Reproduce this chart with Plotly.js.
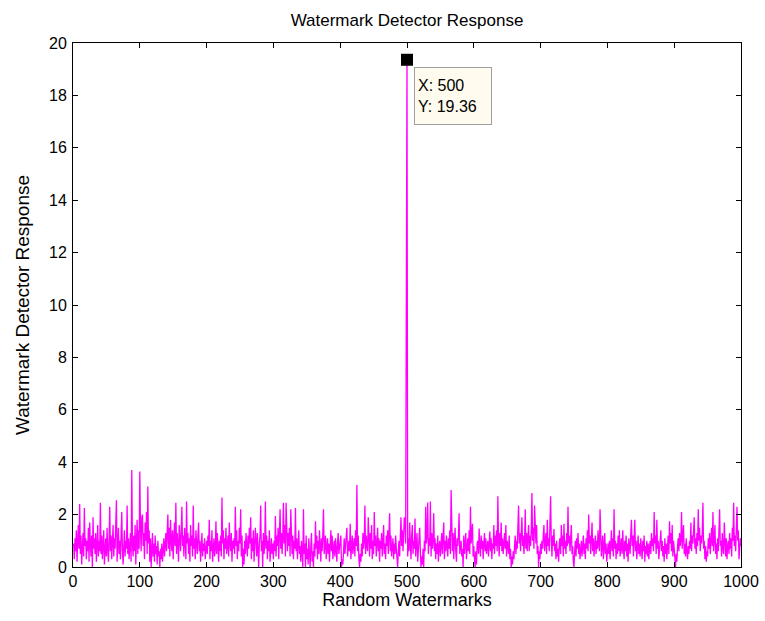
<!DOCTYPE html>
<html>
<head>
<meta charset="utf-8">
<script src="https://cdn.plot.ly/plotly-3.0.1.min.js"></script>
<style>html,body{margin:0;padding:0;background:#fff;}#chart{width:765px;height:621px;}</style>
</head>
<body>
<div id="chart"></div>
<script>
// Detector response for random watermarks 1..1000
const response = [
0.9,0.3,1.1,0.6,1.4,0.2,1.0,1.6,0.7,2.4,0.5,1.2,0.1,0.9,1.3,0.4,2.25,0.8,1.1,0.3,
1.0,0.6,1.5,0.2,1.7,0.9,0.4,1.2,0.0,1.9,0.7,1.1,0.5,1.3,0.2,0.8,1.6,0.4,1.0,0.6,
2.45,0.5,1.2,0.3,0.9,1.4,0.1,0.8,1.1,0.4,1.5,0.7,0.2,1.0,2.3,0.6,1.2,0.3,0.9,1.6,
0.4,1.1,0.7,1.3,2.55,0.2,0.9,1.5,0.5,1.0,0.3,1.2,2.1,0.6,0.1,0.8,1.4,0.4,1.0,0.7,
2.35,0.5,1.1,0.3,0.8,1.3,0.2,3.7,0.9,0.4,1.2,0.6,1.6,0.1,1.0,1.8,0.5,1.4,0.7,3.64,
1.5,0.6,1.9,2.0,0.8,1.3,0.3,1.7,1.0,2.1,0.5,3.07,0.9,1.4,0.2,1.1,0.0,0.7,1.3,0.4,
0.9,0.2,1.2,0.5,0.8,0.1,1.0,0.4,0.6,0.0,0.7,0.3,0.9,0.2,0.5,1.1,0.4,0.8,1.3,0.6,
1.2,2.0,0.7,1.5,0.4,1.8,1.0,0.6,1.4,0.3,1.1,1.7,0.8,2.45,0.5,1.3,0.9,0.2,1.6,1.0,
0.6,1.4,2.3,0.8,1.2,0.4,1.5,1.0,0.3,2.5,0.9,1.3,0.5,1.1,0.2,1.6,0.8,1.2,0.4,2.35,
0.7,1.1,0.3,1.4,0.9,0.5,1.2,1.7,0.6,1.0,0.2,0.8,1.3,0.4,0.9,0.6,1.1,0.3,0.7,1.0,
0.5,1.2,0.8,1.8,0.3,1.0,0.6,1.4,0.2,0.9,1.1,0.4,0.7,1.75,0.5,1.3,0.8,0.2,1.0,0.6,
1.2,0.4,2.65,0.9,1.4,0.3,1.1,0.7,1.5,0.5,0.8,1.2,0.4,1.7,0.9,0.6,1.3,0.2,1.0,0.7,
1.1,0.5,2.3,0.8,1.4,0.3,1.0,0.6,1.5,0.9,2.2,0.4,1.2,0.0,0.7,0.1,1.0,0.5,1.3,0.8,
0.4,1.2,0.7,1.5,0.9,1.9,0.3,1.1,0.6,1.4,0.2,0.8,1.5,1.0,0.4,1.3,0.7,0.0,0.9,1.2,
2.35,0.6,1.0,0.0,1.3,0.5,0.9,2.5,0.7,1.2,0.3,1.0,0.6,1.4,0.2,0.8,1.1,0.5,0.9,0.3,
1.0,0.6,1.95,0.4,1.2,0.8,1.5,0.3,1.0,2.2,0.7,1.3,0.5,1.1,2.45,0.9,1.6,0.4,2.45,1.0,
0.6,1.3,0.8,1.5,0.4,2.2,0.9,0.5,1.2,0.3,1.0,0.7,2.25,0.6,1.1,0.3,0.9,1.4,0.5,0.8,
0.2,1.0,0.6,0.0,2.2,0.5,0.9,0.0,1.2,0.3,0.7,0.1,1.1,0.4,0.0,0.8,1.3,0.2,0.6,0.0,
0.9,0.4,1.75,0.7,1.2,0.3,1.0,0.5,1.4,0.8,0.2,1.1,0.6,1.3,2.2,0.5,0.9,1.2,0.3,0.8,
1.1,0.5,0.9,0.2,1.0,1.4,0.6,1.2,0.3,0.8,1.0,0.4,1.1,0.7,0.2,0.9,1.3,0.5,0.8,1.2,
1.2,0.0,0.3,0.1,0.8,1.1,0.5,0.9,1.3,1.5,0.4,0.7,1.0,0.6,1.65,0.3,0.9,1.2,0.5,0.8,
1.1,0.4,1.4,0.8,3.13,0.6,1.2,0.3,0.0,0.5,0.2,0.9,0.4,1.3,0.7,1.0,2.35,0.5,1.2,0.8,
0.6,1.9,0.9,0.4,1.3,0.7,1.6,0.3,1.0,0.5,2.1,0.8,1.2,0.4,0.9,1.5,0.6,1.1,0.2,1.0,
0.7,1.3,0.4,1.0,1.6,0.5,0.9,0.3,1.2,0.8,1.4,0.5,1.0,2.05,0.6,1.2,0.4,0.8,1.1,0.3,
0.9,0.5,1.2,0.7,0.2,0.0,0.6,1.0,0.4,1.3,1.9,0.8,1.4,0.6,1.1,1.9,1.6,0.9,10.45,19.36,
0.4,1.1,0.6,1.7,0.9,0.3,1.2,1.6,0.5,1.0,0.7,1.85,0.4,0.9,1.3,0.2,0.8,1.1,1.5,0.6,
0.0,0.4,0.1,0.7,0.0,1.0,0.6,2.3,0.9,1.2,2.46,0.5,1.1,0.8,2.5,0.4,1.3,0.7,1.0,2.05,
0.6,1.1,0.3,0.9,0.5,1.2,0.2,0.8,1.0,0.4,0.7,1.3,0.5,0.9,1.7,0.3,1.0,0.6,1.2,0.8,
0.4,1.1,0.7,1.4,0.5,2.94,0.9,0.6,1.3,0.3,1.0,1.5,0.6,0.2,1.1,0.8,1.2,2.05,0.5,0.9,
1.0,0.4,0.7,0.0,1.2,0.5,0.9,1.3,0.3,0.8,1.1,0.6,1.4,0.5,2.3,0.9,1.2,1.65,0.4,0.8,
0.3,0.0,0.6,0.1,0.9,1.0,0.5,1.47,0.8,0.4,1.2,0.7,1.0,0.3,0.9,1.3,0.6,1.1,0.5,0.8,
1.0,0.4,0.8,1.35,0.6,1.1,0.3,0.9,0.7,1.6,0.5,1.2,0.8,1.4,0.6,2.7,1.0,0.4,1.3,0.8,
1.7,0.6,1.1,0.5,0.9,1.3,0.7,1.6,0.4,1.0,0.8,0.5,1.2,0.3,0.7,0.0,0.4,0.1,0.6,0.3,
0.8,1.2,0.5,1.0,0.7,1.4,2.35,0.9,1.3,0.6,1.5,1.9,0.8,1.2,0.5,1.0,2.2,0.7,1.3,0.6,
1.1,1.6,0.6,1.2,0.8,1.4,2.82,1.0,1.5,0.7,2.35,1.1,0.9,1.6,0.5,0.8,0.0,0.6,0.3,0.9,
0.5,1.0,0.7,1.2,1.6,0.6,0.9,1.3,0.5,1.8,0.8,1.1,0.6,1.4,2.7,1.0,0.4,1.2,0.8,1.45,
0.6,0.9,0.3,1.0,0.4,0.7,0.2,0.9,1.1,0.5,1.6,0.8,1.2,0.4,1.65,0.7,1.0,0.5,1.3,0.8,
2.3,0.9,1.2,0.6,1.0,1.6,0.5,0.8,0.2,0.0,0.6,1.0,0.4,1.1,0.7,1.3,0.5,0.9,0.3,0.8,
1.0,0.4,0.8,1.2,0.5,0.9,0.3,1.1,0.7,1.4,0.6,2.0,0.9,1.2,0.5,1.0,1.7,0.6,1.1,0.4,
0.8,1.2,0.5,1.0,0.7,1.4,0.9,0.6,2.2,1.1,0.4,0.8,1.2,0.3,0.7,1.3,0.5,0.9,0.2,0.8,
0.9,0.5,1.0,0.3,0.8,1.4,0.6,1.1,0.4,2.2,0.7,1.0,0.3,0.9,0.5,1.2,0.6,1.4,0.4,0.8,
1.1,0.5,1.4,0.7,0.3,1.0,0.6,1.2,0.4,0.9,0.2,1.1,0.7,0.5,1.3,1.8,0.8,1.2,0.4,1.0,
1.8,0.6,1.0,0.3,0.8,1.2,0.5,0.9,0.4,1.1,0.7,0.3,1.0,0.6,1.2,0.2,0.8,0.5,1.0,0.4,
0.9,0.3,0.7,1.0,0.5,1.3,0.8,1.1,0.6,2.1,0.9,1.2,0.5,1.8,0.7,1.0,0.3,0.8,1.2,1.4,
0.6,1.0,0.4,0.8,0.2,1.1,0.5,0.9,0.3,0.7,1.2,0.5,1.75,0.9,1.3,0.6,1.6,0.4,1.0,0.7,
0.3,0.0,0.5,0.2,0.8,1.1,0.6,1.3,0.8,1.0,2.1,0.7,1.2,1.6,0.5,0.9,0.4,1.1,0.6,0.3,
0.8,0.5,1.0,0.7,1.7,0.6,1.2,0.9,1.4,1.9,0.7,1.1,0.5,1.3,0.8,2.2,1.0,1.5,0.6,1.2,
0.9,1.3,2.45,0.7,1.0,0.3,0.8,0.2,0.6,0.4,1.1,0.7,1.3,0.5,1.0,1.5,0.8,2.1,0.6,1.2,
1.6,0.5,0.9,0.3,1.1,0.6,1.2,2.2,0.8,1.0,0.4,1.3,0.7,0.5,1.7,0.9,0.4,1.1,0.3,0.8,
1.0,0.5,1.3,0.7,1.1,0.4,1.5,1.0,2.45,0.8,1.2,0.6,1.9,2.3,1.0,1.4,0.3,0.7,1.1,0.8
];
const watermarks = response.map((_, i) => i + 1);
const xTicks = [0,100,200,300,400,500,600,700,800,900,1000];
const yTicks = [0,2,4,6,8,10,12,14,16,18,20];

// data tip at the maximum response
let peakIdx = 0;
response.forEach((v, i) => { if (v > response[peakIdx]) peakIdx = i; });
const peakX = watermarks[peakIdx];
const peakY = response[peakIdx];

const fam = 'Liberation Sans, Arial, sans-serif';
const font = {family: fam, size: 16, color: '#000'};

const traces = [
  {x: watermarks, y: response, type: 'scatter', mode: 'lines',
   line: {color: '#ff00ff', width: 1.3}, hoverinfo: 'skip'},
  {x: [peakX], y: [peakY], type: 'scatter', mode: 'markers',
   marker: {symbol: 'square', size: 12, color: '#000'}, hoverinfo: 'skip', cliponaxis: false}
];

const axisCommon = {
  showline: true, linecolor: '#000', linewidth: 1, mirror: 'ticks',
  ticks: 'inside', ticklen: 5, tickcolor: '#000', tickwidth: 1,
  showgrid: false, zeroline: false, tickfont: font
};

const layout = {
  width: 765, height: 621,
  paper_bgcolor: '#fff', plot_bgcolor: '#fff',
  margin: {l: 73, r: 24, t: 43, b: 54},
  showlegend: false,
  font: font,
  title: {text: 'Watermark Detector Response', font: {family: fam, size: 17, color: '#000'},
    x: 0.5, xanchor: 'center', xref: 'paper', y: 1 - 20 / 621, yanchor: 'middle'},
  xaxis: Object.assign({}, axisCommon, {range: [0, 1000], tickvals: xTicks, ticktext: xTicks.map(String),
    title: {text: 'Random Watermarks', font: {family: fam, size: 18, color: '#000'}, standoff: 3}}),
  yaxis: Object.assign({}, axisCommon, {range: [0, 20], tickvals: yTicks, ticktext: yTicks.map(String),
    ticklabelstandoff: 2,
    title: {text: 'Watermark Detector Response', font: {family: fam, size: 19, color: '#000'}, standoff: 14}}),
  annotations: [{
    x: peakX, y: peakY, xref: 'x', yref: 'y',
    text: 'X: ' + peakX + '<br>Y: ' + peakY,
    showarrow: false, xanchor: 'left', yanchor: 'top', xshift: 7, yshift: -7,
    align: 'left', valign: 'middle', width: 70, height: 50,
    bgcolor: '#fffbee', bordercolor: '#a0a0a0', borderwidth: 1, borderpad: 3,
    font: {family: fam, size: 16, color: '#000'}
  }]
};

Plotly.newPlot('chart', traces, layout, {displayModeBar: false, staticPlot: true});
</script>
</body>
</html>
